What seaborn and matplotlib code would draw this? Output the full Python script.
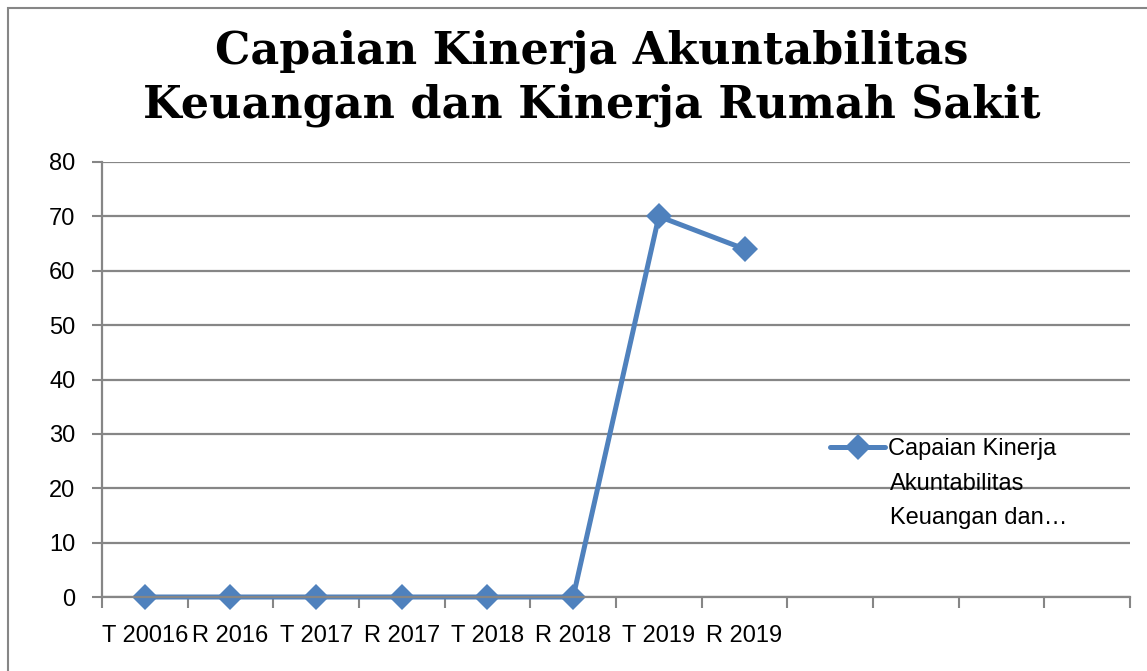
import numpy as np
import pandas as pd
import matplotlib
matplotlib.use("Agg")
import matplotlib.pyplot as plt
import seaborn as sns

# data
kategori = ["T 20016", "R 2016", "T 2017", "R 2017", "T 2018", "R 2018", "T 2019", "R 2019"]
nilai = [0, 0, 0, 0, 0, 0, 70, 64]
n_slot = 12  # the axis has 12 category slots, only 8 are filled
seri = "Capaian Kinerja\nAkuntabilitas\nKeuangan dan…"
judul = "Capaian Kinerja Akuntabilitas\nKeuangan dan Kinerja Rumah Sakit"

df = pd.DataFrame({"pos": np.arange(len(kategori)), "nilai": nilai, "seri": seri})

sns.set_style("white")
plt.rcParams["font.family"] = ["Liberation Sans", "DejaVu Sans"]
plt.rcParams["text.color"] = "black"

biru = "#4F81BD"
abu = "#868686"

fig = plt.figure(figsize=(11.47, 6.71), dpi=100)
ax = fig.add_axes([102 / 1147, 1 - 597 / 671, (1130 - 102) / 1147, (597 - 162) / 671])

sns.lineplot(data=df, x="pos", y="nilai", hue="seri", palette=[biru], ax=ax,
             marker="D", markersize=13, linewidth=3.6, markeredgewidth=0, legend=False)
for ln in ax.lines:
    ln.set_clip_on(False)

ax.set_xlim(-0.5, n_slot - 0.5)
ax.set_ylim(0, 80)
ax.set_yticks(np.arange(0, 81, 10))
ax.set_xticks(np.arange(len(kategori)))
ax.set_xticklabels(kategori)
ax.set_xticks(np.arange(-0.5, n_slot, 1), minor=True)
ax.set_xlabel("")
ax.set_ylabel("")

ax.grid(axis="y", color=abu, linewidth=1.6)
ax.set_axisbelow(True)
for s in ["top", "right"]:
    ax.spines[s].set_visible(False)
for s in ["left", "bottom"]:
    ax.spines[s].set_color(abu)
    ax.spines[s].set_linewidth(1.6)

ax.tick_params(axis="y", which="major", left=True, length=7, width=1.5, color=abu,
               labelsize=17, pad=12, labelcolor="black")
ax.tick_params(axis="x", which="major", bottom=False, labelsize=17, pad=17, labelcolor="black")
ax.tick_params(axis="x", which="minor", bottom=True, length=8, width=1.5, color=abu)

# legend: handle next to the first line of the (wrapped) series name
baris = seri.split("\n")
h = ax.lines[0]
leg = ax.legend([h], [baris[0]], loc="center left",
                bbox_to_anchor=(830 / 1147, 1 - 449 / 671),
                bbox_transform=fig.transFigure, frameon=False, fontsize=17,
                handlelength=2.35, handletextpad=0.1, borderpad=0, borderaxespad=0)
fig.text(890 / 1147, 1 - 501 / 671, "\n".join(baris[1:]), ha="left", va="center",
         fontsize=17, linespacing=1.75)

fig.text(0.516, 1 - 78 / 671, judul, ha="center", va="center", fontsize=32,
         fontweight="bold", family=["DejaVu Serif"], linespacing=1.3)

# outer chart border
fig.patches.append(plt.Rectangle((8 / 1147, -0.1), 1.2, 1 - 8 / 671 + 0.1,
                                 transform=fig.transFigure, fill=False,
                                 edgecolor=abu, linewidth=1.5))

fig.savefig("out.png", dpi=100)
